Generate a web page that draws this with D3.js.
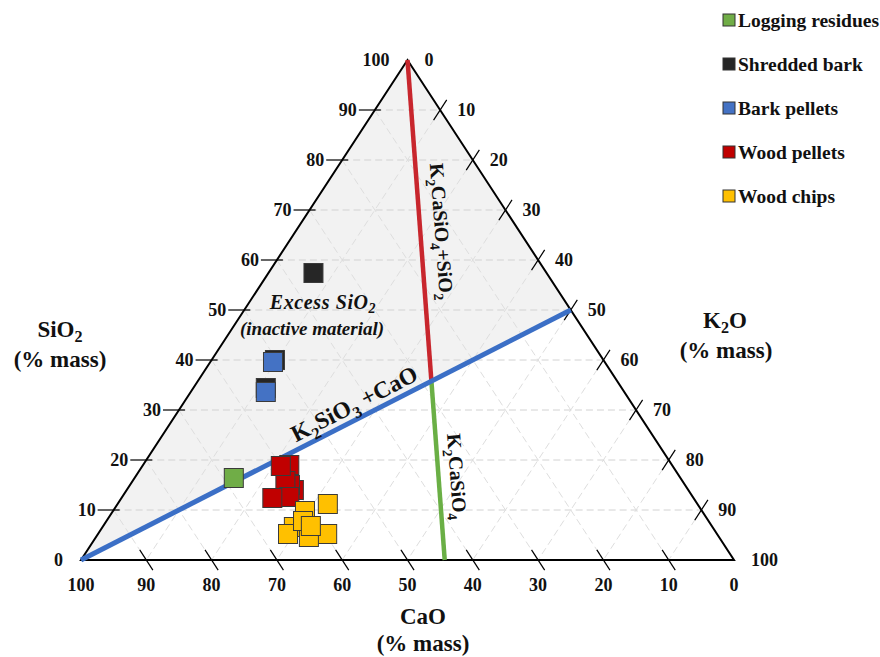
<!DOCTYPE html>
<html>
<head>
<meta charset="utf-8">
<script src="https://cdn.jsdelivr.net/npm/d3@7"></script>
<style>
  html, body { margin: 0; padding: 0; background: #fff; }
  svg { display: block; font-family: "Liberation Serif", "Times New Roman", serif; }
</style>
</head>
<body>
<svg id="chart" width="880" height="657"></svg>
<script>
// ---- data (mass %: SiO2, CaO, K2O) ----
const seriesNames = ["Logging residues", "Shredded bark", "Bark pellets", "Wood pellets", "Wood chips"];
const seriesColors = ["#70ad47", "#262626", "#4472c4", "#c00000", "#ffc000"];

const loggingResidues = [[16.4, 68.4, 15.2]];
const shreddedBark = [[57.4, 35.7, 6.9], [40.0, 50.3, 9.7], [34.4, 54.5, 11.1]];
const barkPellets = [[39.6, 50.8, 9.6], [33.6, 54.9, 11.5]];
const woodPellets = [
  [19.0, 58.6, 22.4], [14.0, 60.4, 25.6], [15.0, 60.5, 24.5], [15.8, 60.8, 23.4],
  [18.8, 60.0, 21.2], [12.6, 61.8, 25.6], [12.4, 64.5, 23.1]
];
const woodChips = [
  [6.6, 64.1, 29.3], [9.8, 60.8, 29.4], [11.2, 56.6, 32.2], [5.2, 59.7, 35.1],
  [4.6, 62.8, 32.6], [5.2, 65.7, 29.1], [7.8, 62.1, 30.1], [6.8, 61.4, 31.8]
];
const allSeries = [loggingResidues, shreddedBark, barkPellets, woodPellets, woodChips];

const tickValues = [0, 10, 20, 30, 40, 50, 60, 70, 80, 90, 100];
const gridValues = [10, 20, 30, 40, 50, 60, 70, 80, 90];

// phase boundaries (SiO2, CaO, K2O)
const k2sio3Line = [[0, 100, 0], [50, 0, 50]];          // CaO corner to K2SiO3 side
const k2casio4Base = [0, 44.3, 55.7];                    // K2CaSiO4 join on the CaO–K2O side

// ---- ternary layout ----
const svg = d3.select("#chart");
const xL = 81, xR = 734, yB = 560, yT = 60;
const apexX = (xL + xR) / 2;

// linear scales for each component's contribution
const sY = d3.scaleLinear().domain([0, 100]).range([yB, yT]);          // SiO2 -> height
const sXsi = d3.scaleLinear().domain([0, 100]).range([0, apexX - xL]); // SiO2 -> x shift
const sXk = d3.scaleLinear().domain([0, 100]).range([0, xR - xL]);     // K2O -> x shift

function proj(d) {
  const tot = d[0] + d[1] + d[2];
  const si = d[0] * 100 / tot, k = d[2] * 100 / tot;
  return [xL + sXsi(si) + sXk(k), sY(si)];
}

const A = proj([0, 100, 0]), B = proj([100, 0, 0]), C = proj([0, 0, 100]);

// shaded field above the K2SiO3–CaO join
svg.append("path")
  .attr("d", d3.line()([proj(k2sio3Line[0]), B, proj(k2sio3Line[1])]) + "Z")
  .attr("fill", "#f2f2f2");

// grid
const gGrid = svg.append("g").attr("fill", "none");
gridValues.forEach(v => {
  const lines = [
    [[v, 100 - v, 0], [v, 0, 100 - v], "#d2d2d2"],   // const SiO2
    [[100 - v, v, 0], [0, v, 100 - v], "#dedede"],   // const CaO
    [[100 - v, 0, v], [0, 100 - v, v], "#dedede"]    // const K2O
  ];
  lines.forEach(([p, q, col]) => {
    gGrid.append("path")
      .attr("d", d3.line()([proj(p), proj(q)]))
      .attr("stroke", col)
      .attr("stroke-width", 1)
      .attr("stroke-dasharray", "7,4");
  });
});

// triangle outline
svg.append("path")
  .attr("d", d3.line()([A, B, C]) + "Z")
  .attr("fill", "none")
  .attr("stroke", "#000")
  .attr("stroke-width", 2)
  .attr("stroke-linejoin", "miter");

// ticks
const gTicks = svg.append("g").attr("stroke", "#000").attr("stroke-width", 1.2);
const unit = (p, q) => { const dx = q[0] - p[0], dy = q[1] - p[1], l = Math.hypot(dx, dy); return [dx / l, dy / l]; };
const uBC = unit(B, C), uAB = unit(A, B);

gridValues.forEach(v => {
  // SiO2 (left side)
  const pl = proj([v, 100 - v, 0]);
  gTicks.append("line").attr("x1", pl[0] - 16).attr("y1", pl[1]).attr("x2", pl[0] + 6).attr("y2", pl[1]);
  // CaO (base)
  const pb = proj([0, v, 100 - v]);
  gTicks.append("line")
    .attr("x1", pb[0] - uBC[0] * 12).attr("y1", pb[1] - uBC[1] * 12)
    .attr("x2", pb[0] + uBC[0] * 12).attr("y2", pb[1] + uBC[1] * 12);
  // K2O (right side)
  const pr = proj([100 - v, 0, v]);
  gTicks.append("line")
    .attr("x1", pr[0] - uAB[0] * 12).attr("y1", pr[1] - uAB[1] * 12)
    .attr("x2", pr[0] + uAB[0] * 12).attr("y2", pr[1] + uAB[1] * 12);
});

// tick labels
const gLab = svg.append("g")
  .attr("font-size", 18).attr("font-weight", "bold").attr("fill", "#111");
tickValues.forEach(v => {
  const pl = proj([v, 100 - v, 0]);
  gLab.append("text").attr("x", pl[0] - 18).attr("y", pl[1] + 6)
    .attr("text-anchor", "end").text(v);
  const pb = proj([0, v, 100 - v]);
  gLab.append("text").attr("x", pb[0]).attr("y", pb[1] + 31)
    .attr("text-anchor", "middle").text(v);
  const pr = proj([100 - v, 0, v]);
  gLab.append("text").attr("x", pr[0] + 17).attr("y", pr[1] + 6)
    .attr("text-anchor", "start").text(v);
});

// chemical formula helper: digits become subscripts
function formula(sel, str, fs, drop = 0.28) {
  const parts = str.match(/\d+|[^\d]+/g);
  let sub = false;
  parts.forEach(p => {
    const isNum = /^\d+$/.test(p);
    const t = sel.append("tspan").text(p);
    if (isNum && !sub) { t.attr("dy", fs * drop).attr("font-size", fs * 0.7); sub = true; }
    else if (!isNum && sub) { t.attr("dy", -fs * drop); sub = false; }
  });
}

// phase boundary lines
const inter = (() => {
  // K2CaSiO4 join meets the K2SiO3–CaO join where SiO2 = K2O
  const kb = k2casio4Base[2] / 100;
  const s = 100 * kb / (1 + kb);
  return [s, k2casio4Base[1] * (1 - s / 100), k2casio4Base[2] * (1 - s / 100)];
})();

const gPhase = svg.append("g").attr("fill", "none").attr("stroke-linecap", "butt");
gPhase.append("path").attr("d", d3.line()([proj([100, 0, 0]), proj(inter)]))
  .attr("stroke", "#c8262d").attr("stroke-width", 4.5);
gPhase.append("path").attr("d", d3.line()([proj(inter), proj(k2casio4Base)]))
  .attr("stroke", "#6aaf45").attr("stroke-width", 4.5);
gPhase.append("path").attr("d", d3.line()(k2sio3Line.map(proj)))
  .attr("stroke", "#3b6fc6").attr("stroke-width", 5);

// data markers
const sq = 19;
const gPts = svg.append("g");
allSeries.forEach((arr, i) => {
  gPts.append("g").selectAll("rect").data(arr).join("rect")
    .attr("x", d => proj(d)[0] - sq / 2)
    .attr("y", d => proj(d)[1] - sq / 2)
    .attr("width", sq).attr("height", sq)
    .attr("fill", seriesColors[i])
    .attr("stroke", "#3a3a3a").attr("stroke-width", 1);
});

// field annotations
const gAnn = svg.append("g").attr("font-weight", "bold").attr("fill", "#111");
const ex = gAnn.append("text").attr("x", 323).attr("y", 309)
  .attr("text-anchor", "middle").attr("font-style", "italic").attr("font-size", 20)
  .attr("letter-spacing", 0.6);
formula(ex, "Excess SiO2", 20, 0.22);
gAnn.append("text").attr("x", 312).attr("y", 335)
  .attr("text-anchor", "middle").attr("font-style", "italic").attr("font-size", 19)
  .text("(inactive material)");

// label along the K2SiO3–CaO join
const pA = proj(k2sio3Line[0]), pB = proj(k2sio3Line[1]);
const uBlue = unit(pA, pB);
const angBlue = Math.atan2(uBlue[1], uBlue[0]) * 180 / Math.PI;
const baseBlue = [361, pA[1] + (361 - pA[0]) * uBlue[1] / uBlue[0]];
const nBlue = [uBlue[1], -uBlue[0]];   // normal pointing up-left
const t1 = gAnn.append("text").attr("font-size", 23.5).attr("text-anchor", "middle")
  .attr("transform", `translate(${baseBlue[0] + nBlue[0] * 7},${baseBlue[1] + nBlue[1] * 7}) rotate(${angBlue})`);
formula(t1, "K2SiO3 +CaO", 23.5);

// labels along the K2CaSiO4 join
const pTop = proj([100, 0, 0]), pBase = proj(k2casio4Base);
const angRed = Math.atan2(pBase[1] - pTop[1], pBase[0] - pTop[0]) * 180 / Math.PI;
const m1 = proj([65.6, 15.3, 19.1]);
const t2 = gAnn.append("text").attr("font-size", 20).attr("text-anchor", "middle")
  .attr("transform", `translate(${m1[0] + 15},${m1[1]}) rotate(${angRed})`);
formula(t2, "K2CaSiO4+SiO2", 20);
const m2 = proj([16.6, 37.0, 46.4]);
const t3 = gAnn.append("text").attr("font-size", 20).attr("text-anchor", "middle")
  .attr("transform", `translate(${m2[0] + 12},${m2[1]}) rotate(${angRed})`);
formula(t3, "K2CaSiO4", 20);

// axis titles
const titleFs = 23;
const gTitle = svg.append("g").attr("font-weight", "bold").attr("font-size", titleFs)
  .attr("fill", "#111").attr("text-anchor", "middle");
const ts = gTitle.append("text").attr("x", 60).attr("y", 337);
formula(ts, "SiO2", titleFs, 0.2);
gTitle.append("text").attr("x", 60).attr("y", 367).text("(% mass)");
const tk = gTitle.append("text").attr("x", 725).attr("y", 328);
formula(tk, "K2O", titleFs, 0.2);
gTitle.append("text").attr("x", 726).attr("y", 358).text("(% mass)");
gTitle.append("text").attr("x", 423).attr("y", 624).text("CaO");
gTitle.append("text").attr("x", 423).attr("y", 651).text("(% mass)");

// legend
const gLeg = svg.append("g").attr("font-weight", "bold").attr("font-size", 19.5).attr("fill", "#111");
const legY = d3.scaleLinear().domain([0, seriesNames.length - 1]).range([20, 196]);
seriesNames.forEach((name, i) => {
  const y = legY(i);
  gLeg.append("rect").attr("x", 723).attr("y", y - 6).attr("width", 12).attr("height", 12)
    .attr("fill", seriesColors[i]).attr("stroke", "#333").attr("stroke-width", 1);
  gLeg.append("text").attr("x", 738).attr("y", y + 7).text(name);
});
</script>
</body>
</html>
